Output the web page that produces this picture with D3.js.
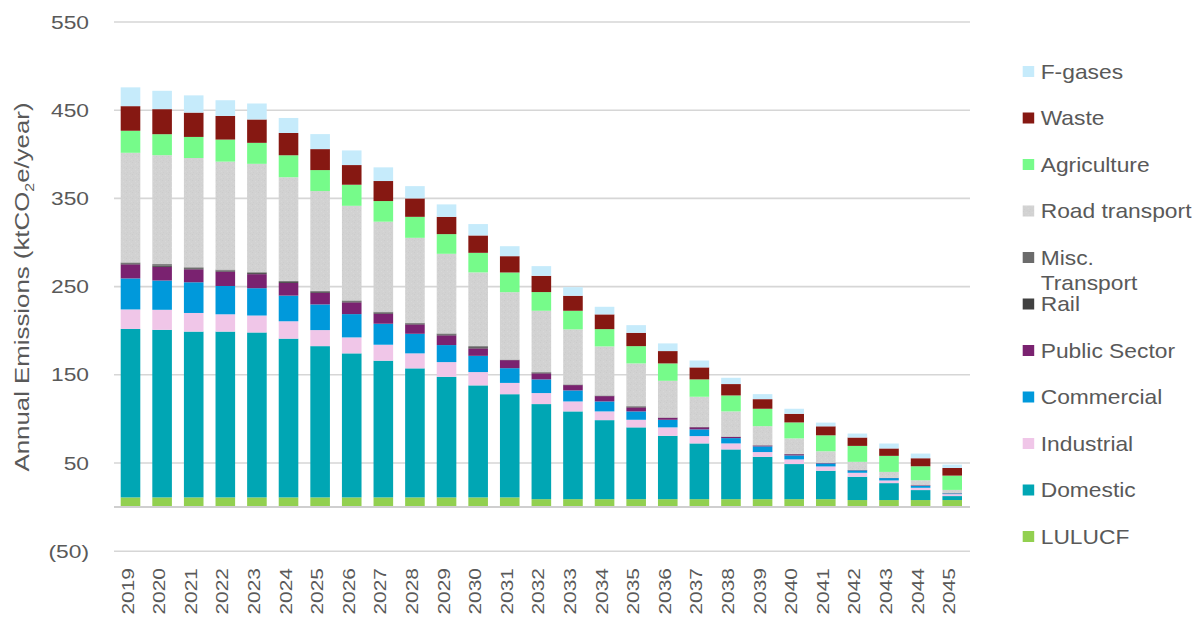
<!DOCTYPE html>
<html>
<head>
<meta charset="utf-8">
<script src="https://cdn.jsdelivr.net/npm/d3@7"></script>
<style>
  html, body { margin: 0; padding: 0; background: #fff; }
  svg { display: block; }
  text { font-family: "Liberation Sans", Arial, sans-serif; fill: #595959; }
</style>
</head>
<body>
<svg id="chart" width="1202" height="619"></svg>
<script>
// Annual emissions by sector, ktCO2e/year
const years = ["2019","2020","2021","2022","2023","2024","2025","2026","2027","2028","2029","2030","2031","2032","2033","2034","2035","2036","2037","2038","2039","2040","2041","2042","2043","2044","2045"];

const lulucf     = [11, 11, 11, 11, 11, 11, 11, 11, 11, 11, 11, 11, 11, 9, 9, 9, 9, 9, 9, 9, 9, 9, 9, 8, 8, 8, 8];
const domestic   = [191, 190, 188, 188, 187, 180, 171.5, 163.3, 155, 146.3, 136.7, 127, 117, 107.8, 99.5, 89.6, 81.4, 71.8, 63.2, 56.4, 48, 39.8, 32.2, 26.4, 19.2, 11.3, 4.5];
const industrial = [22.1, 22.7, 21.1, 19.6, 19.2, 19.7, 18.2, 18.1, 18.1, 17, 16.7, 15.1, 12.8, 12.5, 11.3, 9.9, 8.6, 9.6, 8.3, 6.8, 5.4, 5.3, 4.9, 4.5, 3.0, 2.6, 2.2];
const commercial = [35.2, 33.2, 34.8, 32.1, 31, 29.1, 29.1, 26.4, 23.8, 22.2, 19.3, 18.4, 16.7, 15.5, 12.5, 11.3, 9.5, 8.6, 7.6, 6.0, 6.4, 4.5, 3.4, 2.7, 2.7, 2.2, 0.8];
const publicSector = [15.9, 15.5, 14.7, 16.3, 15.9, 14.4, 13.2, 13.3, 11.4, 10.6, 11.0, 8.4, 9.1, 6.8, 6.0, 6.0, 4.5, 2.3, 2.4, 1.4, 1.0, 1.3, 0.5, 0.3, 0.2, 0.6, 0.2];
const rail       = [1.2, 1.6, 1.2, 1.2, 1.2, 1.2, 1.2, 1.2, 1.2, 1.0, 1.2, 1.4, 0.4, 0.8, 0.4, 0.4, 0.8, 0.2, 0.2, 0.2, 0.2, 0.2, 0.1, 0.1, 0.1, 0.1, 0.1];
const miscTransport = [1.0, 1.5, 1.1, 1.1, 1.0, 1.0, 1.1, 1.0, 1.1, 0.9, 1.0, 1.2, 0.3, 0.7, 0.4, 0.4, 0.7, 0.2, 0.2, 0.2, 0.2, 0.2, 0.1, 0.1, 0.1, 0.1, 0.1];
const roadTransport = [124.3, 123.5, 123.9, 122.4, 122.9, 117.6, 113, 107.3, 102, 96.3, 90.3, 83.6, 76.4, 69.5, 62.4, 55.6, 48.4, 41.5, 34.2, 28.5, 21.6, 17.6, 13.1, 9.2, 6.6, 5.5, 3.6];
const agriculture = [25, 23.8, 23.9, 25, 23.8, 24.9, 23.8, 23.9, 23.4, 23.8, 22.3, 22.2, 22.3, 21.2, 21.1, 19.6, 19.6, 19.7, 19.7, 18.1, 19.7, 18.1, 18.1, 18.1, 18.2, 15.9, 16.2];
const waste      = [27.9, 28.4, 27.6, 26.8, 26.5, 25.3, 23.8, 22.3, 22.7, 20.9, 19.6, 19.7, 18.5, 18.4, 17, 16.7, 15.1, 14, 13.6, 12.9, 10.9, 9.8, 10.2, 9.5, 8.4, 9.1, 8.7];
const fGases     = [21.3, 20.8, 19.5, 17.8, 18.1, 17, 17, 16.6, 15.5, 13.9, 14.1, 12.9, 11.3, 11, 9.8, 8.6, 8.7, 8.7, 7.8, 7.1, 5.7, 5.7, 4.2, 4.5, 5.6, 5.3, 3.8];

// Stack order, bottom to top
const seriesNames = ["LULUCF", "Domestic", "Industrial", "Commercial", "Public Sector", "Rail", "Misc. Transport", "Road transport", "Agriculture", "Waste", "F-gases"];
const seriesValues = [lulucf, domestic, industrial, commercial, publicSector, rail, miscTransport, roadTransport, agriculture, waste, fGases];
const seriesColors = ["#92d050", "#00a6b4", "#f0c6e8", "#0099db", "#7a2270", "#404040", "#6b6b6b", "url(#road)", "#76fb8a", "#861812", "#c6ebfb"];

const yTicks = [550, 450, 350, 250, 150, 50, -50];
const fmtTick = v => v < 0 ? "(" + Math.abs(v) + ")" : String(v);

const rows = years.map((yr, i) => {
  const r = { year: yr };
  seriesNames.forEach((n, k) => { r[n] = seriesValues[k][i]; });
  return r;
});

const svg = d3.select("#chart");

// Lightly grained grey fill for road transport
const defs = svg.append("defs");
const pat = defs.append("pattern").attr("id", "road").attr("patternUnits", "userSpaceOnUse")
  .attr("width", 6).attr("height", 6);
pat.append("rect").attr("width", 6).attr("height", 6).attr("fill", "#d2d2d2");
[[0,0,"#cbcbcb"],[3,1,"#d8d8d8"],[1,4,"#cdcdcd"],[5,3,"#d7d7d7"],[4,5,"#cecece"]].forEach(([px,py,c]) => {
  pat.append("rect").attr("x", px).attr("y", py).attr("width", 1).attr("height", 1).attr("fill", c);
});

const x = d3.scaleBand().domain(years).range([114.7, 968]).paddingInner(0.38).paddingOuter(0.19);
const y = d3.scaleLinear().domain([-50, 550]).range([551.2, 22]);

// Gridlines
svg.append("g").selectAll("line").data(yTicks).join("line")
  .attr("x1", 114).attr("x2", 970)
  .attr("y1", d => y(d)).attr("y2", d => y(d))
  .attr("stroke", "#d6d6d6").attr("stroke-width", 1.6);

// Tick labels
svg.append("g").selectAll("text").data(yTicks).join("text")
  .attr("transform", d => `translate(89,${y(d)}) scale(1.2,1)`)
  .attr("text-anchor", "end").attr("dy", "0.35em")
  .style("font-size", "19px")
  .text(fmtTick);

// Stacked bars
const stacked = d3.stack().keys(seriesNames)(rows);
svg.append("g").selectAll("g").data(stacked).join("g")
  .attr("fill", (d, i) => seriesColors[i])
  .selectAll("rect").data(d => d).join("rect")
  .attr("x", d => x(d.data.year))
  .attr("width", x.bandwidth())
  .attr("y", d => y(d[1]))
  .attr("height", d => Math.max(0, y(d[0]) - y(d[1])));

// Zero line
svg.append("line")
  .attr("x1", 114).attr("x2", 970).attr("y1", y(0)).attr("y2", y(0))
  .attr("stroke", "#cfcfcf").attr("stroke-width", 2);

// Year labels
svg.append("g").selectAll("text").data(years).join("text")
  .attr("transform", d => `translate(${x(d) + x.bandwidth() / 2 + 3},568) rotate(-90) scale(1.23,1)`)
  .attr("text-anchor", "end")
  .style("font-size", "17px")
  .text(d => d);

// Axis title
const title = svg.append("text")
  .attr("transform", "translate(28.5,287) rotate(-90)")
  .attr("text-anchor", "middle")
  .attr("textLength", 369).attr("lengthAdjust", "spacingAndGlyphs")
  .style("font-size", "21px");
title.append("tspan").text("Annual Emissions (ktCO");
title.append("tspan").text("2").style("font-size", "13px").attr("dy", 5);
title.append("tspan").text("e/year)").attr("dy", -5);

// Legend, top to bottom
const legendOrder = seriesNames.slice().reverse();
const legend = svg.append("g").selectAll("g").data(legendOrder).join("g")
  .attr("transform", (d, i) => `translate(1022.7,${71.5 + i * 46.5})`);
legend.append("rect")
  .attr("x", 0).attr("y", -5.5).attr("width", 11.5).attr("height", 11)
  .attr("fill", d => seriesColors[seriesNames.indexOf(d)]);
legend.append("g")
  .attr("transform", "translate(18,0) scale(1.14,1)")
  .each(function(d) {
    const lines = d === "Misc. Transport" ? ["Misc.", "Transport"] : [d];
    const t = d3.select(this).append("text").style("font-size", "20px");
    lines.forEach((ln, k) => {
      t.append("tspan").attr("x", 0).attr("y", k * 26).attr("dy", "0.35em").text(ln);
    });
  });
</script>
</body>
</html>
